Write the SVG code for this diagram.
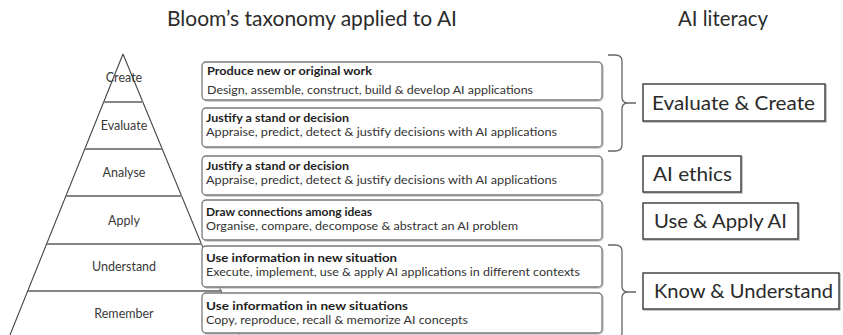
<svg xmlns="http://www.w3.org/2000/svg" width="843" height="335" viewBox="0 0 843 335">
<style>
text{font-family:Lato,"Liberation Sans",sans-serif;fill:#2b2b2b}
.title{font-size:21px}
.lvl{font-size:12.5px;text-anchor:middle;fill:#3a3a3a}
.b{font-size:11px;font-weight:bold;fill:#1e1e1e}
.r{font-size:11px;fill:#333}
.big{font-size:19px;fill:#2a2a2a}
.box{fill:#fff;stroke:#7a7a7a;stroke-width:1.3}
.shadow{fill:none;stroke:#c8c8c8;stroke-width:1.5}
.rbox{fill:#fff;stroke:#454545;stroke-width:1.5}
.rshadow{fill:none;stroke:#b5b5b5;stroke-width:1.5}
.edge{fill:none;stroke:#444;stroke-width:1.1}
.div{fill:none;stroke:#858585;stroke-width:2}
.brace{fill:none;stroke:#666;stroke-width:1.3}
</style>
<rect width="843" height="335" fill="#fff"/>
<text class="title" x="167" y="26" textLength="290" lengthAdjust="spacingAndGlyphs">Bloom’s taxonomy applied to AI</text>
<text class="title" x="678" y="26" textLength="90" lengthAdjust="spacingAndGlyphs">AI literacy</text>
<g id="pyramid">
<path class="edge" d="M123,54 L10,335 M123,54 L239,335"/>
<path class="div" d="M104,102 H143 M85,149 H162 M66,196 H182 M47,244 H202 M28,291 H222"/>
</g>
<g id="level-create"><text class="lvl" x="124" y="82">Create</text></g>
<g id="level-evaluate"><text class="lvl" x="124" y="130">Evaluate</text></g>
<g id="level-analyse"><text class="lvl" x="124" y="177">Analyse</text></g>
<g id="level-apply"><text class="lvl" x="124" y="225">Apply</text></g>
<g id="level-understand"><text class="lvl" x="124" y="271">Understand</text></g>
<g id="level-remember"><text class="lvl" x="124" y="318">Remember</text></g>
<g id="box-create">
<rect class="shadow" x="203" y="63" width="400" height="38" rx="4"/>
<rect class="box" x="202" y="62" width="400" height="38" rx="4"/>
<text class="b" x="207" y="75" textLength="165" lengthAdjust="spacingAndGlyphs">Produce new or original work</text>
<text class="r" x="207" y="94" textLength="326" lengthAdjust="spacingAndGlyphs">Design, assemble, construct, build &amp; develop AI applications</text>
</g>
<g id="box-evaluate">
<rect class="shadow" x="203" y="109" width="400" height="39" rx="4"/>
<rect class="box" x="202" y="108" width="400" height="39" rx="4"/>
<text class="b" x="206" y="122" textLength="143" lengthAdjust="spacingAndGlyphs">Justify a stand or decision</text>
<text class="r" x="206" y="136" textLength="351" lengthAdjust="spacingAndGlyphs">Appraise, predict, detect &amp; justify decisions with AI applications</text>
</g>
<g id="box-analyse">
<rect class="shadow" x="203" y="157" width="400" height="39" rx="4"/>
<rect class="box" x="202" y="156" width="400" height="39" rx="4"/>
<text class="b" x="206" y="170" textLength="143" lengthAdjust="spacingAndGlyphs">Justify a stand or decision</text>
<text class="r" x="206" y="184" textLength="351" lengthAdjust="spacingAndGlyphs">Appraise, predict, detect &amp; justify decisions with AI applications</text>
</g>
<g id="box-apply">
<rect class="shadow" x="203" y="201" width="400" height="40" rx="4"/>
<rect class="box" x="202" y="200" width="400" height="40" rx="4"/>
<text class="b" x="206" y="216" textLength="166" lengthAdjust="spacingAndGlyphs">Draw connections among ideas</text>
<text class="r" x="206" y="230" textLength="312" lengthAdjust="spacingAndGlyphs">Organise, compare, decompose &amp; abstract an AI problem</text>
</g>
<g id="box-understand">
<rect class="shadow" x="203" y="247" width="400" height="41" rx="4"/>
<rect class="box" x="202" y="246" width="400" height="41" rx="4"/>
<text class="b" x="206" y="262" textLength="191" lengthAdjust="spacingAndGlyphs">Use information in new situation</text>
<text class="r" x="206" y="276" textLength="374" lengthAdjust="spacingAndGlyphs">Execute, implement, use &amp; apply AI applications in different contexts</text>
</g>
<g id="box-remember">
<rect class="shadow" x="203" y="294" width="400" height="40" rx="4"/>
<rect class="box" x="202" y="293" width="400" height="40" rx="4"/>
<text class="b" x="206" y="310" textLength="202" lengthAdjust="spacingAndGlyphs">Use information in new situations</text>
<text class="r" x="206" y="324" textLength="262" lengthAdjust="spacingAndGlyphs">Copy, reproduce, recall &amp; memorize AI concepts</text>
</g>
<g id="connectors">
<path class="brace" d="M608,55 L615,55 Q622,55 622,61 L622,97 Q622,103 628,103 L636,103 M628,103 Q622,103 622,109 L622,145 Q622,151 615,151 L608,151"/>
<path class="brace" d="M608,245 L615,245 Q622,245 622,251 L622,286 Q622,292 628,292 L636,292 M628,292 Q622,292 622,298 L622,333 Q622,339 615,339 L608,339"/>
</g>
<g id="lit-evaluate-create">
<rect class="rshadow" x="644" y="85" width="182" height="37"/>
<rect class="rbox" x="643" y="84" width="182" height="37"/>
<text class="big" x="652" y="110" textLength="163" lengthAdjust="spacingAndGlyphs">Evaluate &amp; Create</text>
</g>
<g id="lit-ethics">
<rect class="rshadow" x="644" y="157" width="98" height="36"/>
<rect class="rbox" x="643" y="156" width="98" height="36"/>
<text class="big" x="653" y="181" textLength="79" lengthAdjust="spacingAndGlyphs">AI ethics</text>
</g>
<g id="lit-use-apply">
<rect class="rshadow" x="644" y="204" width="155" height="36"/>
<rect class="rbox" x="643" y="203" width="155" height="36"/>
<text class="big" x="654" y="228" textLength="133" lengthAdjust="spacingAndGlyphs">Use &amp; Apply AI</text>
</g>
<g id="lit-know-understand">
<rect class="rshadow" x="644" y="274" width="196" height="36"/>
<rect class="rbox" x="643" y="273" width="196" height="36"/>
<text class="big" x="654" y="298" textLength="179" lengthAdjust="spacingAndGlyphs">Know &amp; Understand</text>
</g>
</svg>
